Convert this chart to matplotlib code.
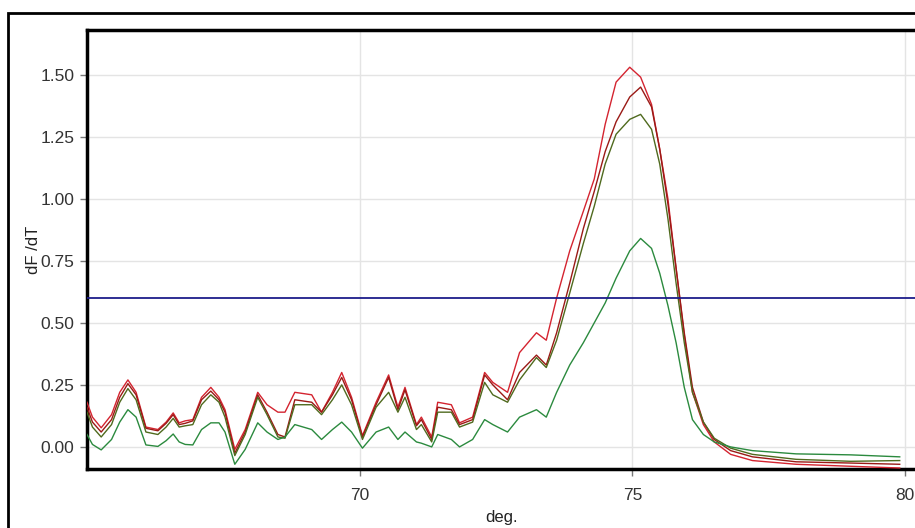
"""
Melt curve plot (dF/dT vs temperature) with four samples and a threshold line.
"""

import matplotlib
matplotlib.use("Agg")
from matplotlib import pyplot as plt
from matplotlib.patches import Rectangle

# temperature grid (deg.) shared by all curves
temps = [65.00, 65.10, 65.26, 65.45, 65.60, 65.75, 65.90, 66.08, 66.30, 66.45,
         66.58, 66.69, 66.80, 66.94, 67.10, 67.27, 67.42, 67.53, 67.71, 67.90,
         68.13, 68.30, 68.50, 68.63, 68.81, 69.12, 69.30, 69.50, 69.67, 69.85,
         70.05, 70.30, 70.53, 70.70, 70.83, 71.04, 71.13, 71.32, 71.43, 71.68,
         71.83, 72.07, 72.29, 72.44, 72.71, 72.93, 73.24, 73.42, 73.61, 73.85,
         74.10, 74.30, 74.50, 74.70, 74.95, 75.15, 75.35, 75.50, 75.65, 75.80,
         75.95, 76.10, 76.30, 76.50, 76.80, 77.20, 78.00, 79.00, 79.90]

sample_a = [0.18, 0.12, 0.077, 0.13, 0.22, 0.27, 0.22, 0.08, 0.07, 0.10,
            0.137, 0.097, 0.105, 0.11, 0.20, 0.24, 0.20, 0.15, -0.01, 0.07,
            0.22, 0.17, 0.14, 0.14, 0.22, 0.21, 0.14, 0.22, 0.30, 0.20,
            0.045, 0.18, 0.29, 0.16, 0.24, 0.09, 0.12, 0.04, 0.18, 0.17,
            0.097, 0.12, 0.30, 0.26, 0.22, 0.38, 0.46, 0.43, 0.60, 0.79,
            0.95, 1.08, 1.30, 1.47, 1.53, 1.49, 1.38, 1.20, 1.00, 0.72,
            0.45, 0.22, 0.09, 0.02, -0.03, -0.055, -0.07, -0.078, -0.085]

sample_b = [0.16, 0.10, 0.06, 0.11, 0.20, 0.255, 0.21, 0.075, 0.065, 0.095,
            0.13, 0.09, 0.095, 0.105, 0.19, 0.225, 0.19, 0.14, -0.025, 0.06,
            0.21, 0.14, 0.05, 0.04, 0.19, 0.18, 0.14, 0.21, 0.28, 0.19,
            0.04, 0.17, 0.28, 0.15, 0.23, 0.085, 0.11, 0.03, 0.16, 0.15,
            0.09, 0.11, 0.29, 0.25, 0.19, 0.30, 0.37, 0.33, 0.46, 0.66,
            0.88, 1.03, 1.19, 1.31, 1.41, 1.45, 1.37, 1.20, 0.98, 0.72,
            0.46, 0.24, 0.10, 0.03, -0.015, -0.04, -0.06, -0.065, -0.07]

sample_c = [0.14, 0.08, 0.04, 0.09, 0.18, 0.235, 0.19, 0.06, 0.05, 0.08,
            0.115, 0.08, 0.085, 0.09, 0.17, 0.21, 0.18, 0.12, -0.035, 0.05,
            0.20, 0.13, 0.04, 0.035, 0.17, 0.17, 0.13, 0.19, 0.25, 0.17,
            0.03, 0.16, 0.22, 0.14, 0.20, 0.07, 0.09, 0.02, 0.14, 0.14,
            0.08, 0.10, 0.26, 0.21, 0.18, 0.27, 0.36, 0.32, 0.43, 0.62,
            0.82, 0.97, 1.14, 1.26, 1.32, 1.34, 1.28, 1.14, 0.92, 0.66,
            0.42, 0.22, 0.10, 0.035, -0.005, -0.03, -0.05, -0.058, -0.055]

sample_d = [0.05, 0.01, -0.012, 0.03, 0.10, 0.15, 0.12, 0.008, 0.002, 0.025,
            0.052, 0.02, 0.01, 0.008, 0.07, 0.097, 0.097, 0.06, -0.07, -0.01,
            0.097, 0.06, 0.03, 0.04, 0.09, 0.07, 0.03, 0.07, 0.10, 0.06,
            -0.005, 0.06, 0.08, 0.03, 0.06, 0.02, 0.015, 0.0, 0.05, 0.03,
            0.0, 0.03, 0.11, 0.09, 0.06, 0.12, 0.15, 0.12, 0.22, 0.33,
            0.42, 0.50, 0.58, 0.68, 0.79, 0.84, 0.80, 0.70, 0.57, 0.42,
            0.24, 0.11, 0.05, 0.02, 0.0, -0.015, -0.028, -0.032, -0.04]

threshold = 0.6

x_ticks = [70, 75, 80]
y_ticks = [0.00, 0.25, 0.50, 0.75, 1.00, 1.25, 1.50]

samples = [
    (sample_a, "#d42430"),
    (sample_b, "#9a1a16"),
    (sample_c, "#4f6a1e"),
    (sample_d, "#2b8a3e"),
]

plt.rcParams["font.family"] = ["Liberation Sans", "DejaVu Sans"]

fig = plt.figure(figsize=(9.15, 5.28), dpi=100)
ax = fig.add_axes([87 / 915, 1 - 469 / 528, 1 - 87 / 915, (469 - 30) / 528])

# outer frame, its right and bottom sides run off the picture
fig.add_artist(Rectangle((8 / 915, -0.2), 2, 1 - 13 / 528 + 0.2,
                         transform=fig.transFigure, fill=False,
                         lw=2, ec="black"))

for values, color in samples:
    ax.plot(temps, values, "-", color=color, lw=1.0, zorder=3)

ax.axhline(threshold, color="#1c1c8a", lw=1.3, zorder=4)

ax.set_xlim(65.0, 80.18)
ax.set_ylim(-0.089, 1.68)
ax.set_xticks(x_ticks)
ax.set_yticks(y_ticks)
ax.set_yticklabels([f"{v:.2f}" for v in y_ticks])

ax.grid(True, color="#e4e4e4", lw=1.0, zorder=0)
ax.set_axisbelow(True)

for side in ("left", "top", "bottom"):
    ax.spines[side].set_linewidth(2.5)
    ax.spines[side].set_color("black")
ax.spines["right"].set_visible(False)

ax.tick_params(axis="both", colors="#777777", labelcolor="#333333",
               labelsize=12.5, length=5, width=1)
ax.tick_params(axis="x", pad=9)
ax.tick_params(axis="y", pad=4)

ax.set_xlabel("deg.", fontsize=12, color="#222222", labelpad=5)
ax.set_ylabel("dF /dT", fontsize=12, color="#222222", labelpad=0)

fig.savefig("out.png", dpi=100)
